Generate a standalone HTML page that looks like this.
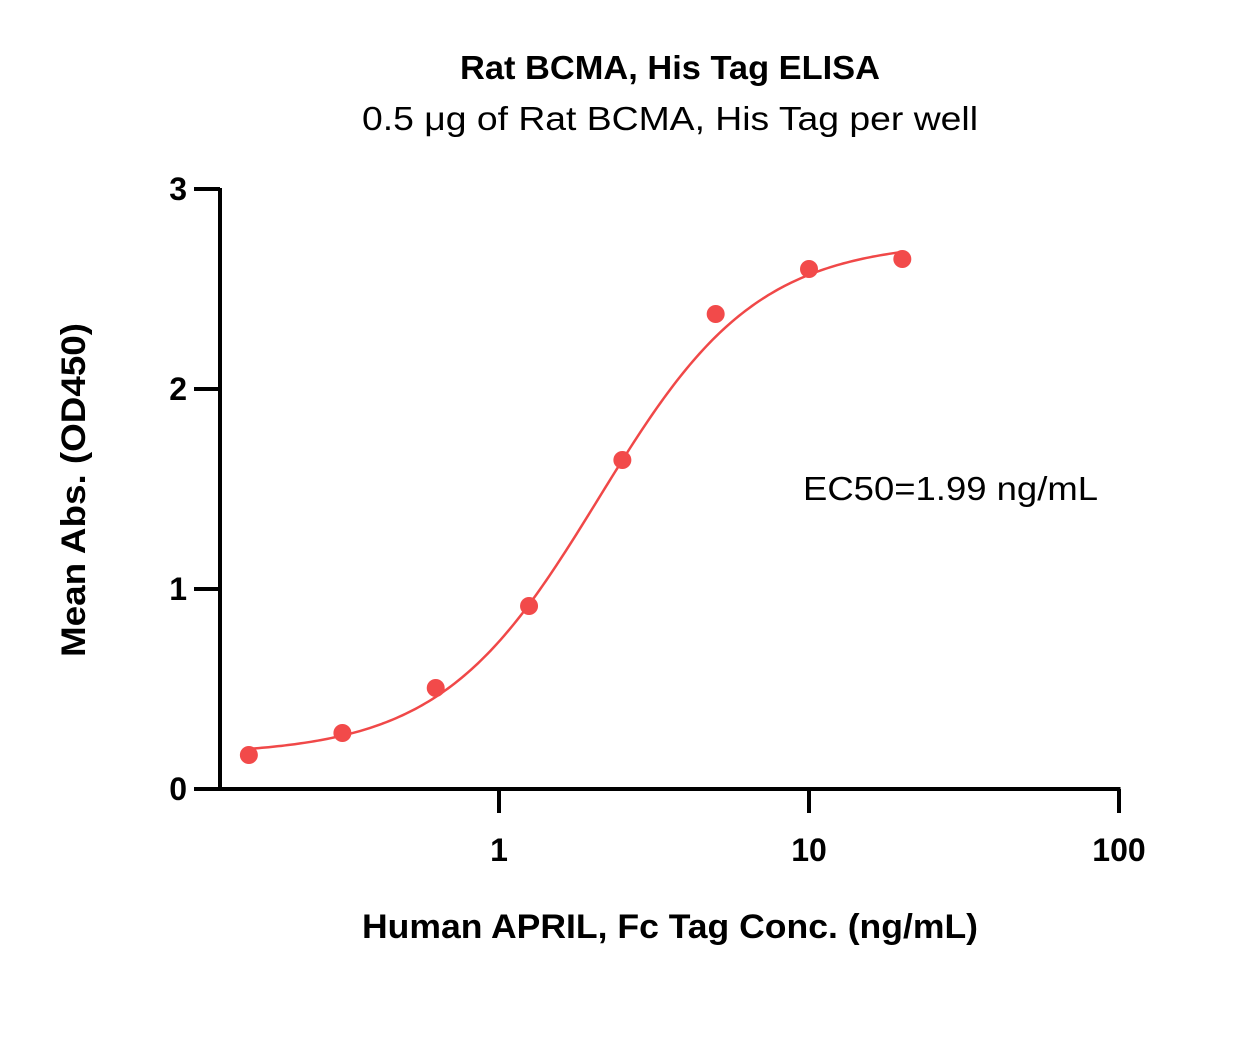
<!DOCTYPE html>
<html><head><meta charset="utf-8"><style>
html,body{margin:0;padding:0;background:#fff;}
svg{display:block;font-family:"Liberation Sans",sans-serif;}
</style></head><body>
<svg id="chart" width="1245" height="1044">
<text x="460" y="79" textLength="420" lengthAdjust="spacingAndGlyphs" font-size="33" font-weight="bold">Rat BCMA, His Tag ELISA</text>
<text x="362" y="130" textLength="616" lengthAdjust="spacingAndGlyphs" font-size="33">0.5 μg of Rat BCMA, His Tag per well</text>
<text x="803" y="500" textLength="295" lengthAdjust="spacingAndGlyphs" font-size="33">EC50=1.99 ng/mL</text>
<text x="362" y="938" textLength="616" lengthAdjust="spacingAndGlyphs" font-size="34" font-weight="bold">Human APRIL, Fc Tag Conc. (ng/mL)</text>
<text transform="translate(85,657) rotate(-90)" textLength="334" lengthAdjust="spacingAndGlyphs" font-size="34" font-weight="bold">Mean Abs. (OD450)</text>
<g id="axes"></g>
<g id="marks"></g>
</svg>
<script>
const concentrations=[0.156,0.3125,0.625,1.25,2.5,5,10,20];
const absorbance=[0.17,0.28,0.505,0.915,1.645,2.375,2.6,2.65];
const fitParams=[0.17,2.74,2.1,1.7]; // bottom, top, EC50, hill
const yTicks=[0,1,2,3];
const xTicks=[1,10,100];
const NS="http://www.w3.org/2000/svg";
function xs(v){return 499+310*Math.log10(v);}
function ys(v){return 789-200*v;}
function mk(tag,attrs,parent){const e=document.createElementNS(NS,tag);for(const k in attrs)e.setAttribute(k,attrs[k]);parent.appendChild(e);return e;}
const axes=document.getElementById('axes'),marks=document.getElementById('marks');
let yAxis=mk('line',{x1:220,y1:ys(3)-1,x2:220,y2:ys(0)+1.5,stroke:'#000','stroke-width':4},axes);


let xAxis=mk('line',{x1:218,y1:ys(0),x2:xs(100)+1.5,y2:ys(0),stroke:'#000','stroke-width':4},axes);


yTicks.forEach(t=>{
  let l=mk('line',{x1:194,y1:ys(t),x2:220,y2:ys(t),stroke:'#000','stroke-width':4},axes);
  
  
  let tx=mk('text',{x:187,y:ys(t)+11,'text-anchor':'end','font-size':32,'font-weight':'bold'},axes);
  tx.textContent=t;
  
  
});
xTicks.forEach(t=>{
  let l=mk('line',{x1:xs(t),y1:ys(0),x2:xs(t),y2:ys(0)+24,stroke:'#000','stroke-width':4},axes);
  
  
  let tx=mk('text',{x:xs(t),y:ys(0)+72,'text-anchor':'middle','font-size':32,'font-weight':'bold'},axes);
  tx.textContent=t;
  
  
});
function fit(c){const[b,t,e,h]=fitParams;return b+(t-b)/(1+Math.pow(e/c,h));}
let d='';
const lo=Math.log10(concentrations[0]),hi=Math.log10(concentrations[concentrations.length-1]);
for(let i=0;i<=200;i++){const c=Math.pow(10,lo+(hi-lo)*i/200);d+=(i?'L':'M')+xs(c).toFixed(2)+','+ys(fit(c)).toFixed(2);}
let curve=mk('path',{d:d,fill:'none',stroke:'#f04848','stroke-width':2.5},marks);


concentrations.forEach((c,i)=>{
  let p=mk('circle',{cx:xs(c),cy:ys(absorbance[i]),r:9,fill:'#f24a4a'},marks);
  
  
});
</script>
</body></html>
